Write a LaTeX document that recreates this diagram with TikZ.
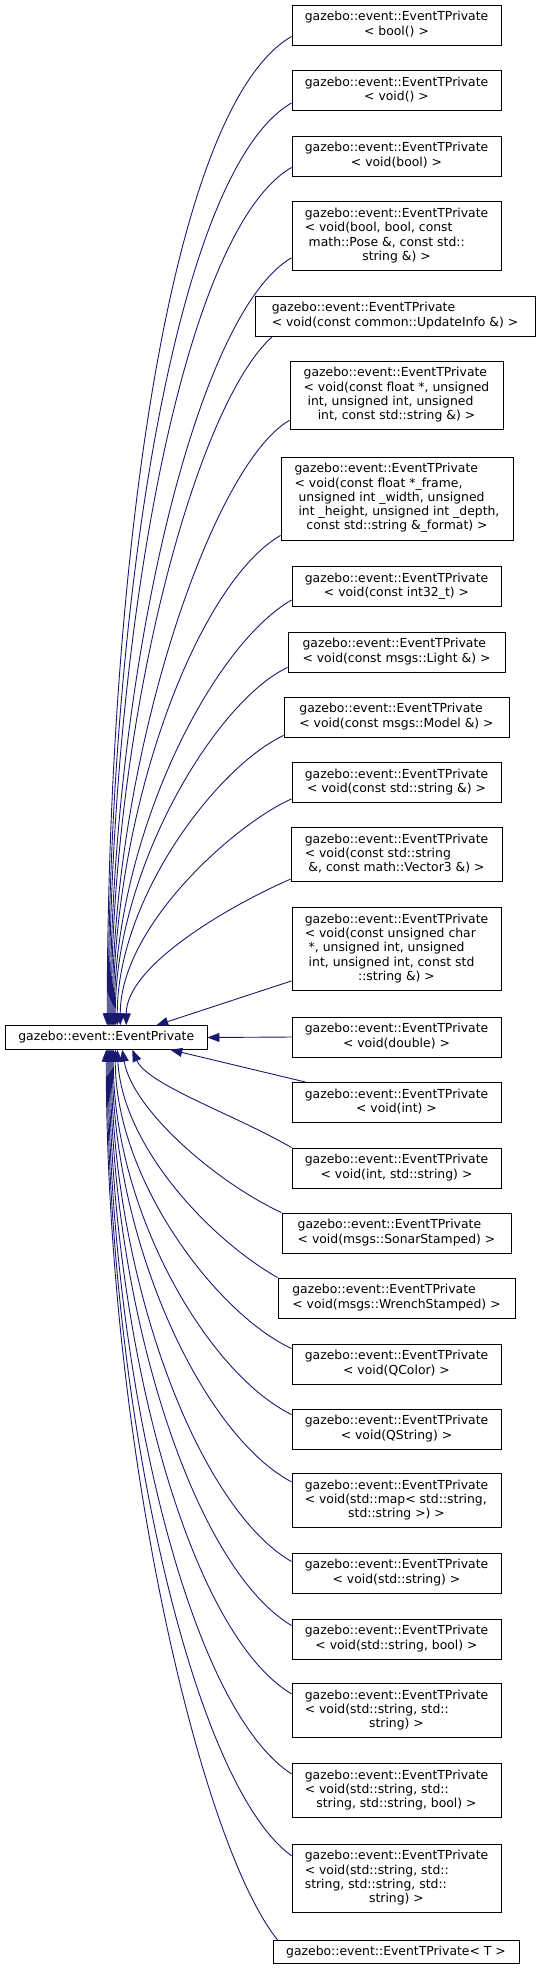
\documentclass[tikz,border=0pt]{standalone}
\usepackage{fontspec}
\setmainfont{DejaVu Sans}
\usepackage{tikz}
\usetikzlibrary{arrows.meta,positioning}
\definecolor{edgeblue}{RGB}{25,25,112}
% box text: all lines left, last line centred
\newcommand{\lines}[1]{\begin{tabular}{@{}l@{}}#1\end{tabular}}
\newcommand{\lastc}[1]{\multicolumn{1}{@{}c@{}}{#1}}
\newcommand{\cname}{gazebo::event::EventTPrivate}

\begin{document}
\begin{tikzpicture}[x=1pt, y=1pt,
    cls/.style={draw=black, fill=white, line width=0.9pt, inner xsep=2pt,
      inner ysep=5.7pt, minimum width=209, font=\fontsize{12.4}{14.3}\selectfont},
    inh/.style={draw=edgeblue, line width=0.9pt, -{Triangle[length=12pt,width=9pt]}}]
    \useasboundingbox (0,0) rectangle (539,-1971);
    % base class
    \node[cls, minimum width=201.5] (base) at (106.25,-1037.5) {gazebo::event::EventPrivate};
    % derived classes above the base
    \node[cls] (tBool) at (396.5,-25) {\lines{\cname\\ \lastc{< bool() >}}};
    \node[cls] (tVoid) at (396.5,-90.5) {\lines{\cname\\ \lastc{< void() >}}};
    \node[cls] (tVoidBool) at (396.5,-156) {\lines{\cname\\ \lastc{< void(bool) >}}};
    \node[cls] (tPose) at (396.5,-236) {\lines{\cname\\ < void(bool, bool, const\\
      \ math::Pose \&, const std::\\ \lastc{string \&) >}}};
    \node[cls, minimum width=280] (tUpdate) at (395,-316) {\lines{\cname\\
      \lastc{< void(const common::UpdateInfo \&) >}}};
    \node[cls, minimum width=213] (tFloat) at (396.5,-395.5) {\lines{\cname\\
      < void(const float *, unsigned\\ \ int, unsigned int, unsigned\\
      \lastc{int, const std::string \&) >}}};
    \node[cls, minimum width=232] (tFrame) at (397,-498.5) {\lines{\cname\\
      < void(const float *\_frame,\\ \ unsigned int \_width, unsigned\\
      \ int \_height, unsigned int \_depth,\\ \lastc{const std::string \&\_format) >}}};
    \node[cls] (tInt32) at (396.5,-586.5) {\lines{\cname\\ \lastc{< void(const int32\_t) >}}};
    \node[cls, minimum width=217] (tLight) at (396.5,-652) {\lines{\cname\\
      \lastc{< void(const msgs::Light \&) >}}};
    \node[cls, minimum width=225] (tModel) at (396.5,-717) {\lines{\cname\\
      \lastc{< void(const msgs::Model \&) >}}};
    \node[cls] (tStr) at (396.5,-782.5) {\lines{\cname\\ \lastc{< void(const std::string \&) >}}};
    \node[cls, minimum width=211] (tVec3) at (396.5,-854.5) {\lines{\cname\\
      < void(const std::string\\ \lastc{\&, const math::Vector3 \&) >}}};
    \node[cls] (tUChar) at (396.5,-949) {\lines{\cname\\ < void(const unsigned char\\
      \ *, unsigned int, unsigned\\ \ int, unsigned int, const std\\ \lastc{::string \&) >}}};
    % derived class beside the base
    \node[cls] (tDouble) at (396.5,-1037) {\lines{\cname\\ \lastc{< void(double) >}}};
    % derived classes below the base
    \node[cls] (tInt) at (396.5,-1102.5) {\lines{\cname\\ \lastc{< void(int) >}}};
    \node[cls] (tIntStr) at (396.5,-1168) {\lines{\cname\\ \lastc{< void(int, std::string) >}}};
    \node[cls, minimum width=229] (tSonar) at (396.5,-1233) {\lines{\cname\\
      \lastc{< void(msgs::SonarStamped) >}}};
    \node[cls, minimum width=237] (tWrench) at (396.5,-1298) {\lines{\cname\\
      \lastc{< void(msgs::WrenchStamped) >}}};
    \node[cls] (tQColor) at (396.5,-1364) {\lines{\cname\\ \lastc{< void(QColor) >}}};
    \node[cls] (tQString) at (396.5,-1429) {\lines{\cname\\ \lastc{< void(QString) >}}};
    \node[cls] (tMap) at (396.5,-1500.5) {\lines{\cname\\ < void(std::map< std::string,\\
      \lastc{std::string >) >}}};
    \node[cls] (tString) at (396.5,-1573) {\lines{\cname\\ \lastc{< void(std::string) >}}};
    \node[cls] (tStrBool) at (396.5,-1639) {\lines{\cname\\ \lastc{< void(std::string, bool) >}}};
    \node[cls] (tStrStr) at (396.5,-1710.5) {\lines{\cname\\ < void(std::string, std::\\
      \lastc{string) >}}};
    \node[cls] (tStr3Bool) at (396.5,-1790.5) {\lines{\cname\\ < void(std::string, std::\\
      \lastc{string, std::string, bool) >}}};
    \node[cls] (tStr4) at (396.5,-1878.5) {\lines{\cname\\ < void(std::string, std::\\
      string, std::string, std::\\ \lastc{string) >}}};
    \node[cls, minimum width=246] (tT) at (396,-1952) {gazebo::event::EventTPrivate< T >};
    % inheritance edges, upper group
    \draw[inh] ([yshift=9]tBool.south west) .. controls +(-127,-74) and +(0,435) .. ([xshift=1]base.north);
    \draw[inh] ([yshift=8]tVoid.south west) .. controls +(-119,-69) and +(0,406) .. ([xshift=2]base.north);
    \draw[inh] ([yshift=9]tVoidBool.south west) .. controls +(-111,-64) and +(0,378) .. ([xshift=3]base.north);
    \draw[inh] ([yshift=13]tPose.south west) .. controls +(-99,-58) and +(0,337) .. ([xshift=4]base.north);
    \draw[inh] ([xshift=18]tUpdate.south west) .. controls +(-77,-68) and +(0,303) .. ([xshift=5]base.north);
    \draw[inh] ([yshift=10]tFloat.south west) .. controls +(-78,-45) and +(0,266) .. ([xshift=6]base.north);
    \draw[inh] ([yshift=5]tFrame.south west) .. controls +(-84,-49) and +(0,216) .. ([xshift=7]base.north);
    \draw[inh] ([yshift=7]tInt32.south west) .. controls +(-81,-47) and +(0,187) .. ([xshift=8]base.north);
    \draw[inh] ([yshift=5]tLight.south west) .. controls +(-71,-33) and +(0,158) .. ([xshift=9]base.north);
    \draw[inh] ([yshift=2]tModel.south west) .. controls +(-66,-31) and +(0,128) .. ([xshift=11]base.north);
    \draw[inh] ([yshift=4]tStr.south west) .. controls +(-55,-24) and +(0,100) .. ([xshift=14]base.north);
    \draw[inh] ([yshift=3]tVec3.south west) .. controls +(-60,-26) and +(0,60) .. ([xshift=20]base.north);
    \draw[inh] ([yshift=10]tUChar.south west) -- ([xshift=50]base.north);
    % beside
    \draw[inh] (tDouble.west) -- (base.east);
    % lower group
    \draw[inh] ([xshift=14]tInt.north west) -- ([xshift=64]base.south);
    \draw[inh] (tIntStr.north west) .. controls +(-57,33) and +(15,-35) .. ([xshift=26]base.south);
    \draw[inh] (tSonar.north west) .. controls +(-65,30) and +(10,-60) .. ([xshift=16]base.south);
    \draw[inh] (tWrench.north west) .. controls +(-70,40) and +(5,-95) .. ([xshift=11]base.south);
    \draw[inh] ([yshift=-5]tQColor.north west) .. controls +(-75,35) and +(0,-130) .. ([xshift=9]base.south);
    \draw[inh] ([yshift=-6]tQString.north west) .. controls +(-85,42) and +(0,-160) .. ([xshift=7]base.south);
    \draw[inh] ([yshift=-9]tMap.north west) .. controls +(-90,48) and +(0,-190) .. ([xshift=6]base.south);
    \draw[inh] ([yshift=-9]tString.north west) .. controls +(-95,55) and +(0,-225) .. ([xshift=5]base.south);
    \draw[inh] ([yshift=-7]tStrBool.north west) .. controls +(-100,60) and +(0,-253) .. ([xshift=4]base.south);
    \draw[inh] ([yshift=-11]tStrStr.north west) .. controls +(-105,63) and +(0,-283) .. ([xshift=3]base.south);
    \draw[inh] ([yshift=-11]tStr3Bool.north west) .. controls +(-105,68) and +(0,-318) .. ([xshift=2]base.south);
    \draw[inh] ([yshift=-12]tStr4.north west) .. controls +(-100,72) and +(0,-355) .. ([xshift=1]base.south);
    \draw[inh] ([xshift=5]tT.north west) .. controls +(-78,97) and +(0,-391) .. (base.south);
  \end{tikzpicture}
\end{document}
